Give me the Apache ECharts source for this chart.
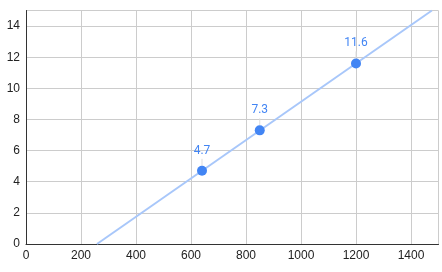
<!DOCTYPE html>
<html><head><meta charset="utf-8">
<script src="https://cdn.jsdelivr.net/npm/echarts@6/dist/echarts.min.js"></script>
<style>html,body{margin:0;padding:0;background:#fff}#c{width:442px;height:272px}</style>
</head><body><div id="c"></div>
<script>
var xValues = [640, 850, 1200];
var yValues = [4.7, 7.3, 11.6];
var trendX = [258, 1476];
var trendY = [0, 15];
var xTicks = [0, 200, 400, 600, 800, 1000, 1200, 1400];
var yTicks = [0, 2, 4, 6, 8, 10, 12, 14];

var pts = xValues.map(function (x, i) { return [x, yValues[i]]; });
var trend = trendX.map(function (x, i) { return [x, trendY[i]]; });

var chart = echarts.init(document.getElementById('c'), null, {renderer: 'canvas'});
chart.setOption({
  animation: false,
  grid: {left: 26, right: 3.5, top: 10.5, bottom: 28, containLabel: false},
  xAxis: {
    type: 'value', min: 0, max: 1500, interval: 200,
    axisLine: {show: true, onZero: false, lineStyle: {color: '#333', width: 1}},
    axisTick: {show: false},
    splitLine: {show: true, lineStyle: {color: '#cccccc', width: 1}},
    axisLabel: {color: '#222', fontFamily: 'Liberation Sans, Arial', fontSize: 12, margin: 6,
      showMaxLabel: false,
      formatter: function (v) { return xTicks.indexOf(v) >= 0 ? String(v) : ''; }}
  },
  yAxis: {
    type: 'value', min: 0, max: 15, interval: 2,
    axisLine: {show: true, onZero: false, lineStyle: {color: '#333', width: 1}},
    axisTick: {show: false},
    splitLine: {show: true, lineStyle: {color: '#cccccc', width: 1}},
    axisLabel: {color: '#222', fontFamily: 'Liberation Sans, Arial', fontSize: 12, margin: 6,
      showMaxLabel: false,
      formatter: function (v) { return yTicks.indexOf(v) >= 0 ? String(v) : ''; }}
  },
  series: [
    {
      type: 'line', data: trend, showSymbol: false, symbol: 'none', silent: true,
      lineStyle: {color: '#a8c7fa', width: 2}, z: 2
    },
    {
      type: 'scatter', data: pts, symbolSize: 10, z: 3,
      itemStyle: {color: '#4285f4', opacity: 1},
      label: {show: true, position: 'top', distance: 9, color: '#4285f4',
        fontFamily: 'Roboto', fontSize: 12,
        formatter: function (p) { return String(p.value[1]); }},
      labelLine: {show: false}
    },
    {
      type: 'custom', z: 2, silent: true, data: pts,
      renderItem: function (params, api) {
        var p = api.coord([api.value(0), api.value(1)]);
        return {type: 'line', shape: {x1: p[0], y1: p[1] - 5, x2: p[0], y2: p[1] - 12},
          style: {stroke: '#dddddd', lineWidth: 1}};
      }
    }
  ]
});
</script></body></html>
